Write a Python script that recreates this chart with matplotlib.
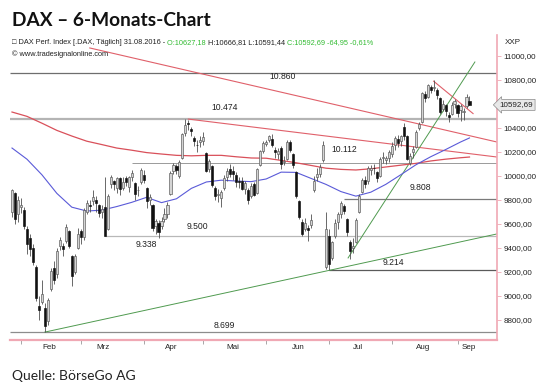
import numpy as np
import matplotlib.pyplot as plt

# DAX daily candles (open, high, low, close), 27.01.2016 - 31.08.2016
jan = [(9700, 9890, 9660, 9880), (9860, 9870, 9600, 9640), (9680, 9830, 9620, 9798)]
feb = [(9740, 9820, 9690, 9757), (9720, 9745, 9560, 9581), (9560, 9580, 9350, 9434),
       (9480, 9520, 9330, 9393), (9400, 9430, 9260, 9286), (9240, 9260, 8960, 8979),
       (8920, 9000, 8800, 8879), (8950, 9130, 8930, 9017), (8900, 8940, 8699, 8752),
       (8790, 8980, 8760, 8967), (9060, 9230, 9040, 9206), (9230, 9290, 9100, 9135),
       (9180, 9400, 9150, 9377), (9420, 9490, 9380, 9463), (9420, 9440, 9330, 9388),
       (9460, 9600, 9440, 9573), (9540, 9550, 9400, 9416), (9330, 9340, 9080, 9167),
       (9200, 9350, 9180, 9331), (9400, 9570, 9390, 9513), (9540, 9560, 9430, 9495)]
mar = [(9490, 9730, 9470, 9717), (9700, 9800, 9680, 9776), (9760, 9800, 9700, 9751),
       (9790, 9880, 9760, 9824), (9800, 9830, 9700, 9778), (9760, 9770, 9660, 9692),
       (9700, 9760, 9650, 9723), (9740, 9990, 9498, 9498), (9560, 9850, 9550, 9831),
       (9930, 10010, 9900, 9990), (9960, 9970, 9880, 9933), (9900, 9990, 9860, 9983),
       (9980, 9990, 9840, 9892), (9900, 9990, 9880, 9950), (9980, 10000, 9920, 9948),
       (9910, 10000, 9870, 9990), (9990, 10050, 9960, 10022), (9940, 9950, 9800, 9851),
       (9880, 9920, 9830, 9887), (9950, 10070, 9930, 10046), (10010, 10050, 9940, 9966)]
apr = [(9900, 9910, 9730, 9794), (9800, 9850, 9760, 9822), (9760, 9770, 9540, 9563),
       (9580, 9640, 9520, 9624), (9610, 9630, 9484, 9531), (9580, 9660, 9560, 9622),
       (9640, 9730, 9620, 9682), (9680, 9780, 9650, 9762), (9850, 10040, 9840, 10027),
       (10040, 10110, 10020, 10094), (10080, 10100, 10020, 10051), (10000, 10130, 9980, 10120),
       (10150, 10360, 10140, 10350), (10360, 10474, 10330, 10421), (10440, 10470, 10380, 10435),
       (10390, 10410, 10330, 10373), (10320, 10330, 10250, 10294), (10260, 10300, 10200, 10259),
       (10280, 10330, 10240, 10300), (10290, 10370, 10260, 10321), (10190, 10200, 10030, 10039)]
may = [(10060, 10140, 10030, 10123), (10080, 10090, 9910, 9926), (9900, 9920, 9800, 9829),
       (9840, 9890, 9780, 9851), (9820, 9880, 9740, 9870), (9900, 10010, 9880, 9980),
       (9990, 10070, 9960, 10045), (10060, 10100, 9990, 10015), (10040, 10080, 9970, 10020),
       (10010, 10030, 9910, 9952), (9960, 9990, 9900, 9953), (9960, 9990, 9880, 9890),
       (9890, 9960, 9850, 9943), (9880, 9900, 9770, 9796), (9830, 9940, 9820, 9916),
       (9930, 9950, 9830, 9842), (9860, 10070, 9850, 10057), (10090, 10220, 10080, 10205),
       (10210, 10290, 10190, 10272), (10270, 10300, 10250, 10286), (10300, 10340, 10280, 10333),
       (10310, 10350, 10240, 10262)]
jun = [(10220, 10240, 10150, 10204), (10180, 10230, 10140, 10208), (10230, 10250, 10060, 10103),
       (10120, 10170, 10090, 10121), (10140, 10300, 10130, 10287), (10280, 10300, 10200, 10217),
       (10180, 10190, 10070, 10088), (10030, 10040, 9820, 9834), (9790, 9800, 9640, 9657),
       (9620, 9640, 9500, 9519), (9560, 9650, 9540, 9606), (9570, 9590, 9460, 9550),
       (9590, 9680, 9570, 9631), (9880, 10000, 9870, 9962), (9990, 10070, 9960, 10015),
       (10020, 10100, 9990, 10071), (10130, 10290, 10120, 10257), (9242, 9700, 9226, 9557),
       (9500, 9560, 9214, 9268), (9320, 9460, 9300, 9448), (9500, 9640, 9480, 9612),
       (9620, 9700, 9560, 9680)]
jul = [(9680, 9790, 9650, 9776), (9750, 9770, 9680, 9709), (9640, 9650, 9500, 9532),
       (9450, 9470, 9310, 9374), (9400, 9480, 9360, 9418), (9450, 9650, 9440, 9629),
       (9700, 9850, 9690, 9833), (9870, 9980, 9860, 9964), (9970, 10000, 9900, 9930),
       (9960, 10080, 9930, 10068), (10050, 10090, 10010, 10066), (10070, 10100, 10020, 10063),
       (10030, 10040, 9950, 9981), (10000, 10160, 9990, 10142), (10150, 10200, 10110, 10156),
       (10130, 10170, 10100, 10147), (10150, 10220, 10120, 10198), (10180, 10280, 10160, 10247),
       (10260, 10330, 10220, 10319), (10310, 10340, 10240, 10275), (10290, 10340, 10250, 10337)]
aug = [(10410, 10440, 10300, 10330), (10330, 10340, 10130, 10144), (10110, 10190, 10090, 10170),
       (10200, 10250, 10150, 10228), (10240, 10380, 10230, 10367), (10400, 10450, 10380, 10432),
       (10450, 10700, 10440, 10692), (10680, 10710, 10620, 10651), (10660, 10770, 10650, 10755),
       (10740, 10760, 10690, 10713), (10730, 10802, 10710, 10740), (10720, 10730, 10640, 10676),
       (10650, 10660, 10520, 10537), (10560, 10630, 10540, 10603), (10590, 10600, 10500, 10544),
       (10510, 10530, 10450, 10494), (10520, 10620, 10510, 10593), (10600, 10640, 10570, 10623),
       (10590, 10600, 10490, 10529), (10550, 10600, 10460, 10587), (10530, 10570, 10470, 10545),
       (10580, 10680, 10570, 10657), (10627, 10667, 10591, 10593)]

# moving averages, read every 5 sessions
ma_idx = list(range(0, 151, 5)) + [153]
ma_fast = [10233, 10140, 10010, 9855, 9740, 9708, 9715, 9745, 9780, 9822, 9778, 9810,
           9897, 9950, 9965, 9958, 9953, 9975, 10032, 10030, 9980, 9930, 9870, 9832,
           9865, 9930, 10010, 10092, 10160, 10220, 10283, 10317]
ma_slow = [10533, 10497, 10440, 10380, 10333, 10290, 10262, 10233, 10215, 10195, 10183, 10172,
           10168, 10172, 10172, 10160, 10150, 10148, 10130, 10110, 10088, 10065, 10055, 10050,
           10060, 10075, 10090, 10105, 10125, 10140, 10152, 10158]

# support / resistance: level, first session, label position
levels = [(10860, -1, '10.860', 90.6, 10833, '#6e6e6e', 0.9),
          (10474, -1, '10.474', 71, 10567, '#b4b4b4', 1.6),
          (10112, 40, '10.112', 111, 10217, '#9a9a9a', 0.7),
          (9808, 111, '9.808', 136.5, 9900, '#7a7a7a', 0.9),
          (9500, 31, '9.500', 62, 9575, '#b8b8b8', 0.9),
          (9214, 106, '9.214', 127.4, 9283, '#5a5a5a', 0.9),
          (8699, -1, '8.699', 71, 8758, '#8c8c8c', 0.9)]
extra_label = ('9.338', 45, 9425)

# trend lines (session, value) -> (session, value)
red_lines = [((26, 11067), (162.2, 10283)),
             ((59, 10474), (162.2, 10158)),
             ((141, 10790), (154.2, 10520))]
green_lines = [((11, 8699), (162.2, 9517)),
               ((112.4, 9317), (154.8, 10950))]

month_ticks = [3, 23, 44, 64, 85, 106, 127, 149]
month_label_pos = [12.4, 30.4, 53.2, 73.9, 95.7, 115.7, 137.5, 152.8]
month_labels = ['Feb', 'Mrz', 'Apr', 'Mai', 'Jun', 'Jul', 'Aug', 'Sep']
price_ticks = list(range(8800, 11001, 200))
last_close = 10592.69

ohlc = np.array(jan + feb + mar + apr + may + jun + jul + aug, dtype=float)
o, h, l, c = ohlc.T
x = np.arange(len(ohlc))

W, H = 540, 392
fig = plt.figure(figsize=(W / 100, H / 100), dpi=100)
ax = fig.add_axes([10 / W, 1 - 340 / H, 487 / W, 305 / H])
ax.set_xlim(-0.67, 162.2)
ax.set_ylim(8633, 11175)

for lev, start, lab, lx, ly, col, lw in levels:
    ax.hlines(lev, start if start >= 0 else -0.67, 162.2, color=col, lw=lw, zorder=1)
    ax.text(lx, ly, lab, fontsize=6.2, ha='center', va='center', color='#222222',
            family='Liberation Sans')
ax.text(extra_label[1], extra_label[2], extra_label[0], fontsize=6.2, ha='center',
        va='center', color='#222222', family='Liberation Sans')

for (x0, y0), (x1, y1) in red_lines:
    ax.plot([x0, x1], [y0, y1], color='#e0606a', lw=0.8, zorder=2)
for (x0, y0), (x1, y1) in green_lines:
    ax.plot([x0, x1], [y0, y1], color='#4f9a4f', lw=0.7, zorder=2)

ax.plot(ma_idx, ma_slow, color='#d9505a', lw=0.9, zorder=2)
ax.plot(ma_idx, ma_fast, color='#5a5ad8', lw=0.8, zorder=2)

up = c >= o
ax.vlines(x, l, h, color='#505050', lw=0.6, zorder=3)
ax.bar(x[up], (c - o)[up], bottom=o[up], width=0.7, color='#d4d4d4',
       edgecolor='#555555', linewidth=0.45, zorder=4)
ax.bar(x[~up], (o - c)[~up], bottom=c[~up], width=0.7, color='#111111',
       edgecolor='#111111', linewidth=0.45, zorder=4)

for s in ['top', 'left']:
    ax.spines[s].set_visible(False)
ax.spines['right'].set_color('#f0a8b4')
ax.spines['right'].set_linewidth(1.2)
ax.spines['bottom'].set_color('#f0a8b4')
ax.spines['bottom'].set_linewidth(1.6)

# the 10600 label sits under the last-price tag, so it is left blank
ax.yaxis.tick_right()
ax.set_yticks(price_ticks)
ax.set_yticklabels(['' if v == 10600 else f'{v:.2f}'.replace('.', ',') for v in price_ticks],
                   fontsize=5.8, family='Liberation Sans', color='#222222')
ax.tick_params(axis='y', length=3, width=0.6, color='#f0a8b4', pad=1.5)

ax.set_xticks(month_ticks)
ax.set_xticklabels([''] * len(month_ticks))
ax.set_xticks(month_label_pos, minor=True)
ax.set_xticklabels(month_labels, minor=True, fontsize=5.8, family='Liberation Sans',
                   color='#222222')
ax.tick_params(axis='x', which='major', length=3, width=0.6, color='#999999')
ax.tick_params(axis='x', which='minor', length=0, pad=3)

ax.text(1.005, last_close, f'{last_close:.2f}'.replace('.', ','), transform=ax.get_yaxis_transform(),
        fontsize=5.8, family='Liberation Sans', va='center', ha='left', color='#222222',
        bbox=dict(boxstyle='larrow,pad=0.25', fc='#e8e8e8', ec='#8a8a8a', lw=0.5), clip_on=False)

fig.text(505 / W, 1 - 43 / H, 'XXP', fontsize=5.8, family='Liberation Sans', va='center',
         color='#222222')

# headings
fig.text(12 / W, 1 - 20 / H, 'DAX – 6-Monats-Chart', fontsize=13.8, fontweight='bold',
         family='Lato', va='center', color='#111111')

renderer = fig.canvas.get_renderer()
parts = [('□ DAX Perf. Index [.DAX, Täglich] 31.08.2016 - ', '#222222'),
         ('O:10627,18 ', '#33bb33'),
         ('H:10666,81 L:10591,44 ', '#222222'),
         ('C:10592,69 -64,95 -0,61%', '#33bb33')]
px = 12
for txt, col in parts:
    t = fig.text(px / W, 1 - 43 / H, txt, fontsize=5.3, family='Liberation Sans',
                 va='center', color=col)
    px = t.get_window_extent(renderer).x1
fig.text(12 / W, 1 - 54 / H, '© www.tradesignalonline.com', fontsize=5.3,
         family='Liberation Sans', va='center', color='#222222')

fig.text(12 / W, 1 - 376 / H, 'Quelle: BörseGo AG', fontsize=10, family='Lato',
         va='center', color='#222222')

fig.savefig('out.png', dpi=100)
